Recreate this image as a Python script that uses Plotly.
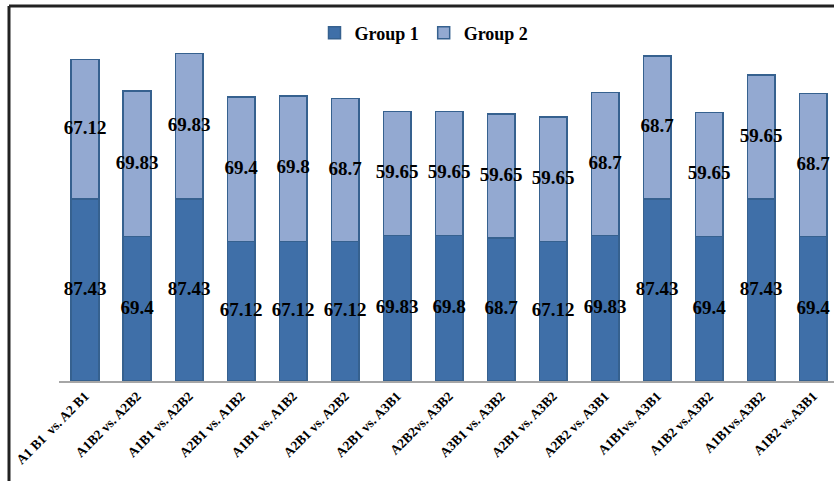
import plotly.graph_objects as go

categories = ["A1 B1  vs. A2 B1", "A1B2 vs. A2B2", "A1B1 vs. A2B2", "A2B1 vs. A1B2",
              "A1B1 vs. A1B2", "A2B1 vs. A2B2", "A2B1 vs. A3B1", "A2B2vs. A3B2",
              "A3B1 vs. A3B2", "A2B1 vs. A3B2", "A2B2 vs. A3B1", "A1B1vs. A3B1",
              "A1B2 vs.A3B2", "A1B1vs.A3B2", "A1B2 vs.A3B1"]
group1 = [87.43, 69.4, 87.43, 67.12, 67.12, 67.12, 69.83, 69.8, 68.7, 67.12, 69.83, 87.43, 69.4, 87.43, 69.4]
group2 = [67.12, 69.83, 69.83, 69.4, 69.8, 68.7, 59.65, 59.65, 59.65, 59.65, 68.7, 68.7, 59.65, 59.65, 68.7]

W, H = 834, 481
ml, mr, mt, mb = 59, 0, 48, 100
pw, ph = W - ml - mr, H - mt - mb

serif = "Times New Roman, Liberation Serif, serif"
c1, c2, edge = "#3F6FA8", "#93A9D1", "#36618F"

fig = go.Figure()
fig.add_trace(go.Bar(x=categories, y=group1, name="Group 1", width=0.53,
                     marker=dict(color=c1, line=dict(color=edge, width=1.5))))
fig.add_trace(go.Bar(x=categories, y=group2, name="Group 2", width=0.53,
                     marker=dict(color=c2, line=dict(color=edge, width=1.5))))

mid1 = [v / 2 for v in group1]
mid2 = [a + b / 2 for a, b in zip(group1, group2)]
lab = dict(family=serif, size=19, color="black", weight="bold")
fig.add_trace(go.Scatter(x=categories, y=mid1, mode="text", text=[str(v) for v in group1],
                         textfont=lab, showlegend=False, hoverinfo="skip", cliponaxis=False))
fig.add_trace(go.Scatter(x=categories, y=mid2, mode="text", text=[str(v) for v in group2],
                         textfont=lab, showlegend=False, hoverinfo="skip", cliponaxis=False))

# outer frame (left and top) in pixel terms
fx = (9 - ml) / pw
fy = 1 + (mt - 6) / ph
fy_bot = -(H - mt - ph + 5) / ph
fig.add_shape(type="line", xref="paper", yref="paper", x0=fx, x1=fx, y0=fy_bot, y1=fy,
              line=dict(color="#222222", width=3))
fig.add_shape(type="line", xref="paper", yref="paper", x0=fx, x1=1.05, y0=fy, y1=fy,
              line=dict(color="#222222", width=3))

fig.update_layout(
    width=W, height=H,
    margin=dict(l=ml, r=mr, t=mt, b=mb),
    barmode="stack",
    plot_bgcolor="white", paper_bgcolor="white",
    showlegend=True,
    legend=dict(orientation="h", traceorder="normal", x=(424 - ml) / pw, xanchor="center",
                y=1 + (mt - 33) / ph, yanchor="middle",
                font=dict(family=serif, size=18, color="black", weight="bold"),
                itemwidth=30, bgcolor="rgba(0,0,0,0)"),
    xaxis=dict(range=[-0.5, 14.4], tickangle=-45, showline=True, linecolor="#A6A6A6", linewidth=2,
               ticks="", tickfont=dict(family=serif, size=13.5, color="black", weight="bold"),
               showgrid=False),
    yaxis=dict(range=[0, 160], visible=False, showgrid=False, zeroline=False),
)

fig.write_html("out.html")
